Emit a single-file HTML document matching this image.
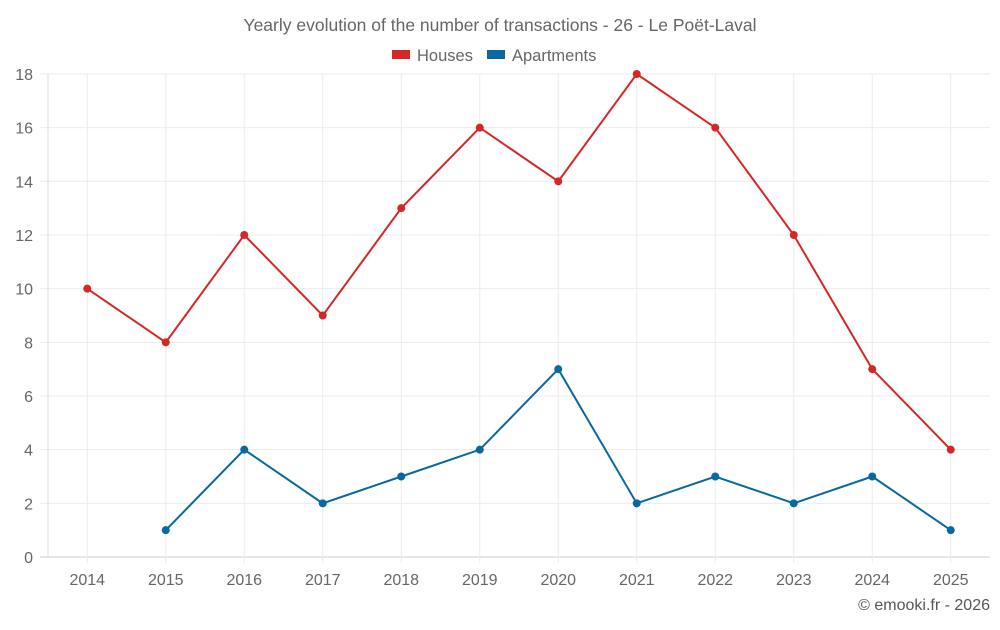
<!DOCTYPE html>
<html><head><meta charset="utf-8"><style>
body{margin:0;background:#fff;font-family:"Liberation Sans",sans-serif;}
svg text{font-family:"Liberation Sans",sans-serif;}
</style></head><body>
<svg id="chart" width="1000" height="625">
<text x="500" y="31" text-anchor="middle" font-size="17.5" fill="#666">Yearly evolution of the number of transactions - 26 - Le Poët-Laval</text>
<g>
<g><rect x="392" y="50" width="18" height="9" fill="#d62728"/><text x="417" y="61" font-size="16.5" fill="#666">Houses</text></g>
<g><rect x="487" y="50" width="18" height="9" fill="#0868a0"/><text x="512" y="61" font-size="16.5" fill="#666">Apartments</text></g>
</g>
<g id="grid"></g><g id="axes"></g><g id="series"></g>
<text x="990" y="610" text-anchor="end" font-size="16" fill="#555">© emooki.fr - 2026</text>
</svg>
<script>
const years=["2014","2015","2016","2017","2018","2019","2020","2021","2022","2023","2024","2025"];
const houses=[10,8,12,9,13,16,14,18,16,12,7,4];
const apartments=[null,1,4,2,3,4,7,2,3,2,3,1];
const yTicks=[0,2,4,6,8,10,12,14,16,18];
const NS="http://www.w3.org/2000/svg";
const L=48,R=990,T=74,B=557,yMax=18;
const bw=(R-L)/years.length;
const xs=i=>L+bw*(i+0.5);
const ys=v=>B-(v/yMax)*(B-T);
function mk(tag,attrs,parent,txt){const e=document.createElementNS(NS,tag);for(const k in attrs)e.setAttribute(k,attrs[k]);if(txt!=null)e.textContent=txt;parent.appendChild(e);return e;}
const grid=document.getElementById('grid'),axes=document.getElementById('axes'),ser=document.getElementById('series');
yTicks.forEach(t=>{
 const l=mk('line',{x1:40,x2:R,y1:ys(t),y2:ys(t),stroke:t===0?'#ccc':'#ebebeb'},grid);
 
 
 const tx=mk('text',{x:33,y:ys(t)+6,'text-anchor':'end','font-size':16,fill:'#666'},axes,t);
 
 
});
years.forEach((y,i)=>{
 const l=mk('line',{x1:xs(i),x2:xs(i),y1:T,y2:B+6,stroke:'#ebebeb'},grid);
 
 
 const tx=mk('text',{x:xs(i),y:585,'text-anchor':'middle','font-size':16,fill:'#666'},axes,y);
 
 
});
const ax=mk('line',{x1:L,x2:L,y1:T,y2:B,stroke:'#ddd'},axes);


function draw(data,color,name){
 const pts=[];data.forEach((v,i)=>{if(v!=null)pts.push([xs(i),ys(v)]);});
 const p=mk('polyline',{points:pts.map(p=>p.join(',')).join(' '),fill:'none',stroke:color,'stroke-width':2},ser);
 
 
 pts.forEach(q=>{const c=mk('circle',{cx:q[0],cy:q[1],r:4,fill:color},ser);
 
 });
}
draw(houses,'#d62728','houses');
draw(apartments,'#0868a0','apartments');
</script>
</body></html>
